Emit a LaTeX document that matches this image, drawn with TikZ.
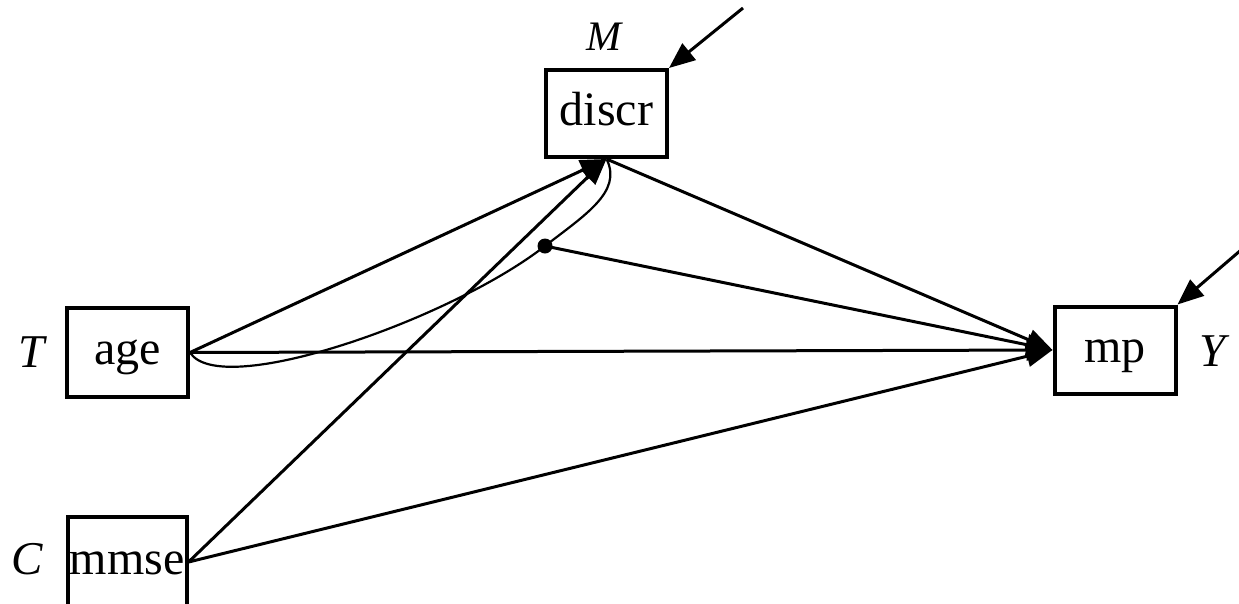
\documentclass[tikz,border=0pt]{standalone}
\usepackage{fontspec}
\setmainfont{Liberation Serif}
\usetikzlibrary{arrows.meta}
\begin{document}
\begin{tikzpicture}[x=1pt,y=-1pt,
  var/.style={draw,line width=4pt,inner sep=0pt,text height=34pt,text depth=10pt,font=\fontsize{48}{48}\selectfont},
  lab/.style={font=\fontsize{47}{47}\selectfont\itshape,inner sep=0pt},
  conn/.style={line width=3pt,-{Triangle[length=26pt,width=21pt]}},
  curv/.style={line width=2.2pt}]
\useasboundingbox (0,0) rectangle (1239,603);
\node[var,minimum width=121pt,minimum height=87pt] (discr) at (606.5,113.5) {discr};
\node[var,minimum width=121pt,minimum height=89pt] (age) at (127.5,352.5) {age};
\node[var,minimum width=119pt,minimum height=90pt] (mmse) at (127,562) {mmse};
\node[var,minimum width=121pt,minimum height=87pt] (mp) at (1115,350) {mp};
\node[lab,font=\fontsize{42}{42}\selectfont\itshape] (lM) at (604,37) {M};
\node[lab] (lT) at (32,352) {T};
\node[lab] (lC) at (27,559) {C};
\node[lab] (lY) at (1213,351) {Y};
\coordinate (eM) at (743,8);
\coordinate (eY) at (1241,250);
\coordinate (cend) at (607,160);
% curve
\draw[curv] (age.east) .. controls (220,400) and (450,320) .. (545,246) coordinate (dot)
  .. controls (585,215) and (622,192) .. (cend);
\fill (dot) circle (7.5pt);
\draw[conn] (age.east) -- (discr.south);
\draw[conn] (mmse.east) -- (discr.south);
\draw[conn] (discr.south) -- (mp.west);
\draw[conn] (dot) -- (mp.west);
\draw[conn] (age.east) -- (mp.west);
\draw[conn] (mmse.east) -- (mp.west);
\draw[conn] (eM) -- (discr.north east);
\draw[conn] (eY) -- (mp.north east);
\end{tikzpicture}
\end{document}
